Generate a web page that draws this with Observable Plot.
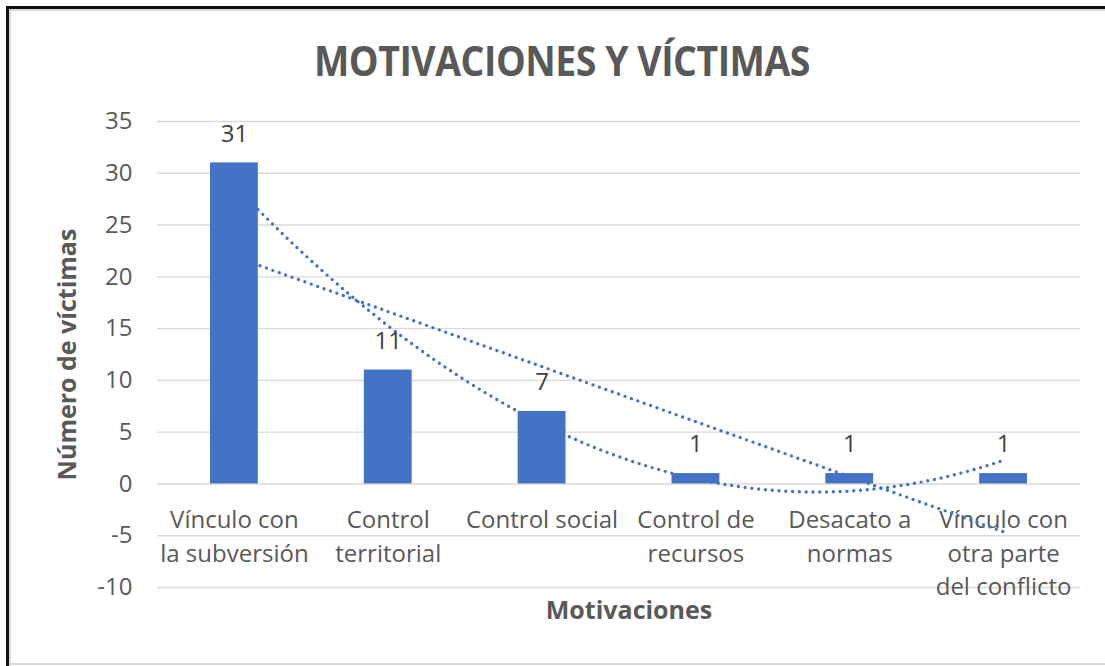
<!DOCTYPE html>
<html>
<head>
<meta charset="utf-8">
<script src="https://cdn.jsdelivr.net/npm/d3@7"></script>
<script src="https://cdn.jsdelivr.net/npm/@observablehq/plot@0.6"></script>
<style>
  html, body { margin: 0; padding: 0; background: #fff; }
  #wrap { position: relative; width: 1105px; height: 666px; overflow: hidden; background: #fff; }
  #frameOuter { position: absolute; left: 6px; top: 6px; right: -10px; bottom: -10px; border-top: 3px solid #111; border-left: 3px solid #111; }
  #frameInner { position: absolute; left: 9px; top: 9px; right: -10px; bottom: -10px; border-top: 2px solid #d9d9d9; border-left: 2px solid #d9d9d9; }
  #frameBottom { position: absolute; left: 10px; right: 0; top: 663px; height: 2px; background: #d9d9d9; }
  #title { position: absolute; left: 0; width: 1105px; top: 41px; height: 38px; line-height: 1; text-align: center; font-family: "Open Sans", sans-serif; font-weight: 700; font-size: 37.5px; color: #595959; letter-spacing: -0.5px; transform: translateX(9.5px) scaleY(1.12); transform-origin: 50% 50%; white-space: nowrap; }
  #chart { position: absolute; left: 0; top: 0; }
</style>
</head>
<body>
<div id="wrap">
  <div id="frameOuter"></div>
  <div id="frameInner"></div>
  <div id="frameBottom"></div>
  <div id="chart"></div>
  <div id="title">MOTIVACIONES Y VÍCTIMAS</div>
</div>
<script>
const categories = [
  "Vínculo con\nla subversión",
  "Control\nterritorial",
  "Control social",
  "Control de\nrecursos",
  "Desacato a\nnormas",
  "Vínculo con\notra parte\ndel conflicto"
];
const values = [31, 11, 7, 1, 1, 1];
const yTicks = [-10, -5, 0, 5, 10, 15, 20, 25, 30, 35];
const yLabel = "Número de víctimas";
const xLabel = "Motivaciones";

const data = categories.map((c, i) => ({label: c, pos: i + 1, value: values[i]}));

// Order-2 polynomial least-squares trendline (as Excel computes it)
function polyFit2(xs, ys) {
  const S = k => d3.sum(xs, x => x ** k);
  const T = k => d3.sum(xs, (x, i) => (x ** k) * ys[i]);
  const A = [[S(0), S(1), S(2)], [S(1), S(2), S(3)], [S(2), S(3), S(4)]];
  const b = [T(0), T(1), T(2)];
  for (let i = 0; i < 3; i++) {
    for (let j = i + 1; j < 3; j++) {
      const f = A[j][i] / A[i][i];
      for (let k = i; k < 3; k++) A[j][k] -= f * A[i][k];
      b[j] -= f * b[i];
    }
  }
  const c = [0, 0, 0];
  for (let i = 2; i >= 0; i--) {
    let s = b[i];
    for (let k = i + 1; k < 3; k++) s -= A[i][k] * c[k];
    c[i] = s / A[i][i];
  }
  return x => c[0] + c[1] * x + c[2] * x * x;
}
const xs = data.map(d => d.pos);
const poly = polyFit2(xs, values);
const polyCurve = d3.range(1, 6.0001, 0.05).map(x => ({x, y: poly(x)}));

const blue = "#4472C4";
const textGray = "#595959";
const dotStyle = {stroke: blue, strokeWidth: 3.4, strokeDasharray: "0 6.8", strokeLinecap: "round"};

const chart = Plot.plot({
  width: 1105,
  height: 666,
  marginLeft: 157,
  marginRight: 25,
  marginTop: 121,
  marginBottom: 79,
  style: {background: "transparent", fontFamily: "'Open Sans', sans-serif"},
  x: {type: "linear", domain: [0.5, 6.5], axis: null},
  y: {domain: [-10, 35], axis: null},
  marks: [
    Plot.gridY(yTicks, {stroke: "#d9d9d9", strokeOpacity: 1, strokeWidth: 1.4}),
    Plot.axisY(yTicks, {tickSize: 0, tickPadding: 25, fontSize: 24, fill: textGray, label: null, tickFormat: d => String(d)}),
    Plot.text(data, {x: "pos", y: 0, text: "label", lineAnchor: "top", dy: 21, lineHeight: 1.38, fontSize: 24, fill: textGray}),
    Plot.linearRegressionY(data, {x: "pos", y: "value", ci: 0, ...dotStyle}),
    Plot.line(polyCurve, {x: "x", y: "y", ...dotStyle}),
    Plot.rectY(data, {x1: d => d.pos - 0.5, x2: d => d.pos + 0.5, y: "value", insetLeft: 53, insetRight: 53, fill: blue}),
    Plot.text(data, {x: "pos", y: "value", text: d => String(d.value), dy: -29, fontSize: 24, fill: "#404040"}),
    Plot.text([xLabel], {frameAnchor: "bottom", dx: 10, dy: 31, fontSize: 25, fontWeight: "bold", fill: textGray}),
    Plot.text([yLabel], {frameAnchor: "left", rotate: -90, textAnchor: "middle", dx: -90, fontSize: 25, fontWeight: "bold", fill: textGray})
  ]
});
document.getElementById("chart").appendChild(chart);
</script>
</body>
</html>
